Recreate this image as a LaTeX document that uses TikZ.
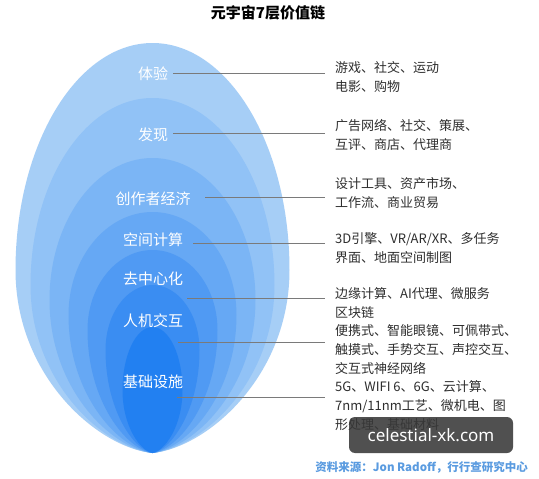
\documentclass[tikz,border=0pt]{standalone}
\usepackage{fontspec}
\setmainfont{Noto Sans CJK SC}
\newfontfamily\wmfont{Noto Sans}
\definecolor{c1}{HTML}{A6CEF6}
\definecolor{c2}{HTML}{91C2F6}
\definecolor{c3}{HTML}{7BB5F5}
\definecolor{c4}{HTML}{66A8F4}
\definecolor{c5}{HTML}{509AF3}
\definecolor{c6}{HTML}{3A8DF2}
\definecolor{c7}{HTML}{2280F1}
\definecolor{srcblue}{HTML}{5A9BE0}
\definecolor{leadgray}{HTML}{7A7A7A}
\definecolor{txtgray}{HTML}{2E2E2E}
\begin{document}
\begin{tikzpicture}[x=1pt,y=-1pt,
  lbl/.style={text=white,font=\fontsize{15}{18}\selectfont,inner sep=0pt},
  desc/.style={text=txtgray,font=\fontsize{13}{18.7}\selectfont,anchor=base west,align=left,inner sep=0pt},
  lead/.style={draw=leadgray,line width=0.9pt}]
\useasboundingbox (0,0) rectangle (539,479);
\fill[white] (0,0) rectangle (539,479);
% nested egg layers
\foreach \yt/\ym/\w/\c in {43/270/137/c1, 98/285/122/c2, 158/300/103/c3, 212/315/84/c4, 250/330/65/c5, 285/350/47/c6, 327/390/30/c7}{
  \fill[fill=\c] (152.5,\yt)
    .. controls ({152.5-0.552*\w},\yt) and ({152.5-\w},{\ym-0.552*(\ym-\yt)}) .. ({152.5-\w},\ym)
    .. controls ({152.5-\w},{\ym+0.58*(453-\ym)}) and ({152.5-0.4*\w},{453-0.03*(453-\ym)}) .. (152.5,453)
    .. controls ({152.5+0.4*\w},{453-0.03*(453-\ym)}) and ({152.5+\w},{\ym+0.58*(453-\ym)}) .. ({152.5+\w},\ym)
    .. controls ({152.5+\w},{\ym-0.552*(\ym-\yt)}) and ({152.5+0.552*\w},\yt) .. cycle;
}
% title
\node[font=\fontsize{15}{18}\selectfont\bfseries,text=black,inner sep=0pt] (title) at (268,13) {元宇宙7层价值链};
% layer labels
\node[lbl] (l1) at (153,74) {体验};
\node[lbl] (l2) at (153,135) {发现};
\node[lbl] (l3) at (153,199) {创作者经济};
\node[lbl] (l4) at (153,240) {空间计算};
\node[lbl] (l5) at (153,279) {去中心化};
\node[lbl] (l6) at (153,321) {人机交互};
\node[lbl] (l7) at (153,382) {基础设施};
% leader line ends
\coordinate (s1) at (173,73);  \coordinate (e1) at (325,73);
\coordinate (s2) at (173,133); \coordinate (e2) at (325,133);
\coordinate (s3) at (205,197); \coordinate (e3) at (325,197);
\coordinate (s4) at (193,243); \coordinate (e4) at (325,243);
\coordinate (s5) at (187,298); \coordinate (e5) at (325,298);
\coordinate (s6) at (178,342); \coordinate (e6) at (325,342);
\coordinate (s7) at (177,397); \coordinate (e7) at (325,397);
\foreach \i in {1,...,7}{\draw[lead] (s\i) -- (e\i);}
% descriptions (base = baseline of last line)
\node[desc] (d1) at (335,91) {游戏、社交、运动\\电影、购物};
\node[desc] (d2) at (335,149) {广告网络、社交、策展、\\互评、商店、代理商};
\node[desc] (d3) at (335,207) {设计工具、资产市场、\\工作流、商业贸易};
\node[desc] (d4) at (335,262) {3D引擎、VR/AR/XR、多任务\\界面、地面空间制图};
\node[desc] (d5) at (335,317) {边缘计算、AI代理、微服务\\区块链};
\node[desc] (d6) at (335,373) {便携式、智能眼镜、可佩带式、\\触摸式、手势交互、声控交互、\\交互式神经网络};
\node[desc] (d7) at (335,429) {5G、WIFI 6、6G、云计算、\\7nm/11nm工艺、微机电、图\\形处理、基础材料};
% watermark
\node[fill=black!78,fill opacity=0.88,text opacity=1,rounded corners=6pt,minimum width=164pt,minimum height=36pt,inner sep=0pt,text=white,font=\wmfont\fontsize{17}{20}\selectfont] (wm) at (431,435) {celestial-xk.com};
% source
\node[anchor=base east,text=srcblue,font=\fontsize{11.5}{14}\selectfont\bfseries,inner sep=0pt] (src) at (528,471) {资料来源：Jon Radoff，行行查研究中心};
\end{tikzpicture}
\end{document}
